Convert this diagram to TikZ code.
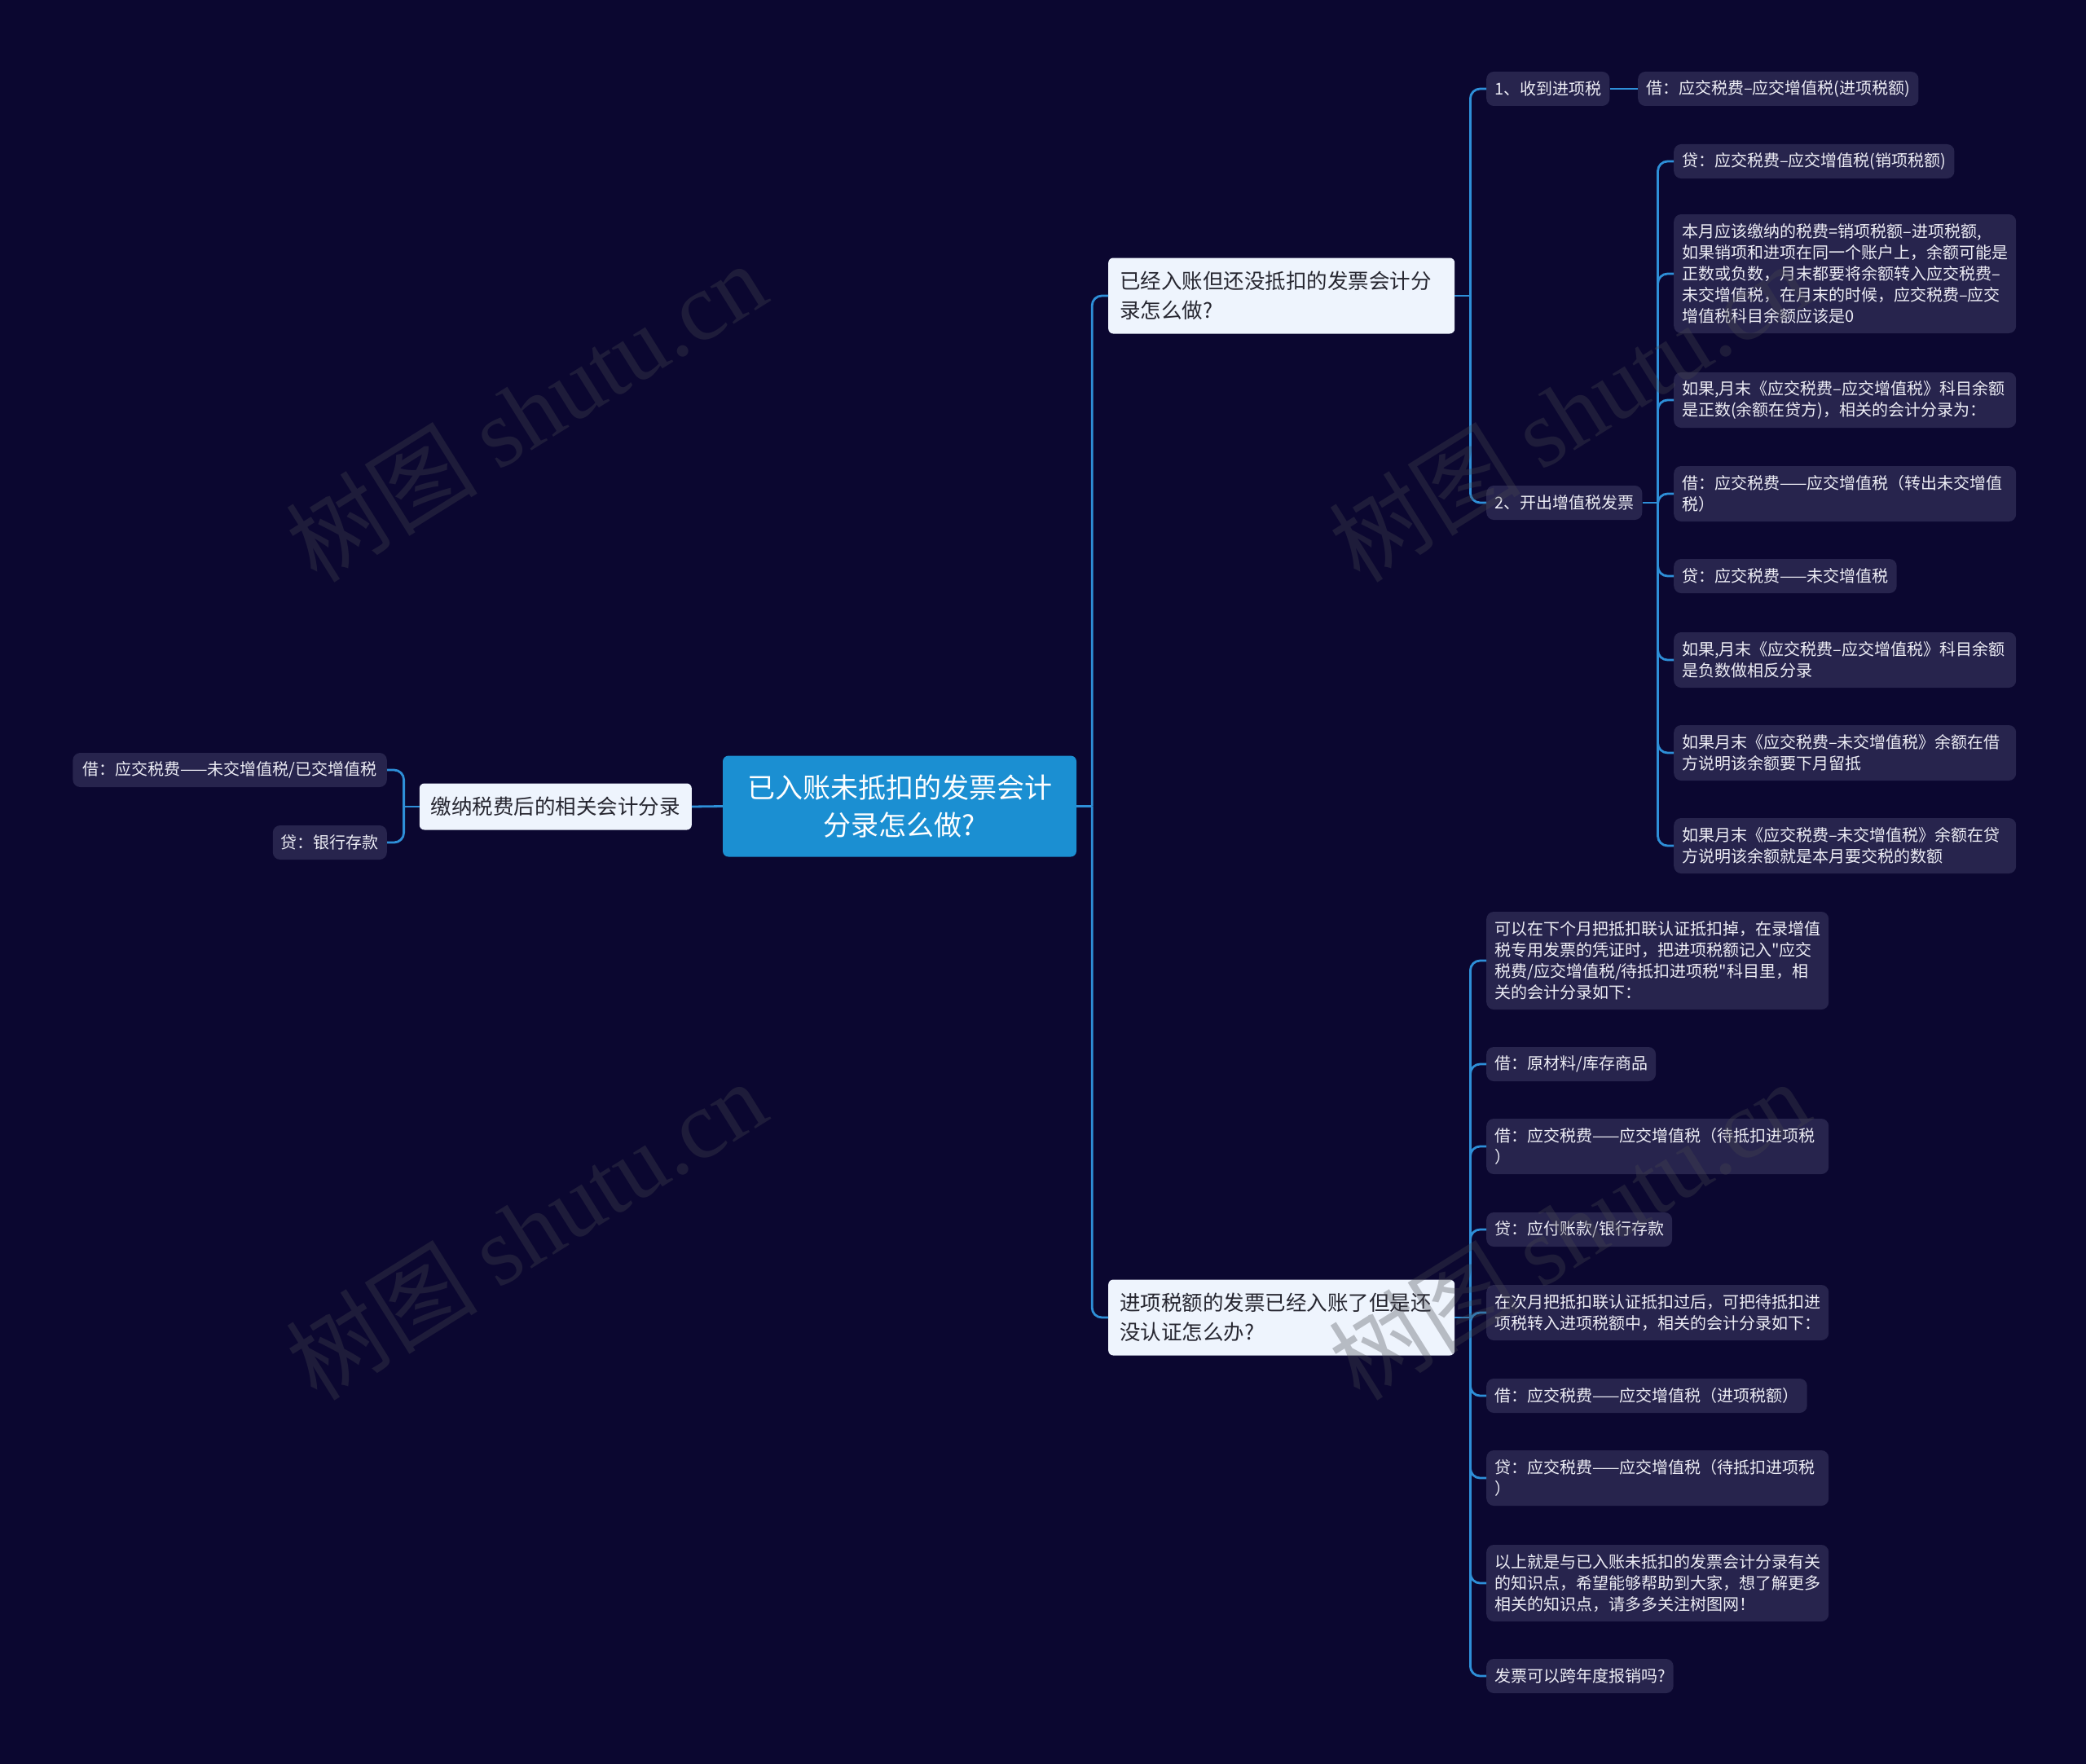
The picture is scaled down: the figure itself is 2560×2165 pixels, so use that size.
\documentclass[tikz,border=0pt]{standalone}
\usepackage{fontspec}
\setmainfont{Noto Sans CJK SC}[Ligatures=TeXOff]
\newfontfamily\wmlatin{Liberation Serif}
\usetikzlibrary{calc}
\definecolor{bgc}{HTML}{0B0730}
\definecolor{leafc}{HTML}{27244D}
\definecolor{linec}{HTML}{2E8FD8}
\definecolor{rootc}{HTML}{1B8FD2}
\definecolor{branchc}{HTML}{EEF4FD}
\definecolor{branchtext}{HTML}{262630}
\definecolor{leaftext}{HTML}{EDEDF5}
\definecolor{wmc}{HTML}{47474F}
\begin{document}
\begin{tikzpicture}[x=1pt,y=-1pt,
  rootbox/.style={fill=rootc, rounded corners=7pt, text=white, align=center,
    font=\fontsize{34}{46}\selectfont, minimum width=434pt, minimum height=124pt, inner sep=0pt},
  branchbox/.style={fill=branchc, rounded corners=6pt, text=branchtext, align=left,
    font=\fontsize{25.5}{36}\selectfont, inner xsep=14pt, inner ysep=0pt, minimum height=57pt},
  branchwide/.style={branchbox, text width=397pt, minimum height=93pt},
  leafbox/.style={fill=leafc, rounded corners=9pt, text=leaftext, align=left,
    font=\fontsize{20}{26}\selectfont, inner xsep=10pt, inner ysep=0pt, minimum height=42pt},
  leafwide/.style={leafbox, text width=400pt},
  nlines/.style={minimum height={26*#1+16}},
  conn/.style={draw=linec, line width=2.8pt},
  elbow/.style={conn, rounded corners=12pt},
  wm/.style={text=wmc, opacity=0.33, rotate=32, font=\fontsize{118}{118}\selectfont, inner sep=0pt}
]
\useasboundingbox (0,0) rectangle (2560,2165);
\fill[bgc] (0,0) rectangle (2560,2165);

% root and first level
\node[rootbox] (root) at (1104,989.5) {已入账未抵扣的发票会计\\分录怎么做?};
\node[branchbox, anchor=east] (lb) at (849,990) {缴纳税费后的相关会计分录};
\node[branchwide, anchor=west] (b1) at (1360,363) {已经入账但还没抵扣的发票会计分\\录怎么做?};
\node[branchwide, anchor=west] (b2) at (1360,1617) {进项税额的发票已经入账了但是还\\没认证怎么办?};

% left leaves
\node[leafbox, anchor=east, inner xsep=12pt] (l1) at (475,945) {借：应交税费——未交增值税/已交增值税};
\node[leafbox, anchor=east] (l2) at (475,1034) {贷：银行存款};

% branch 1 children
\node[leafbox, anchor=west] (c1) at (1824,109) {1、收到进项税};
\node[leafbox, anchor=west] (c1a) at (2010,109) {借：应交税费–应交增值税(进项税额)};
\node[leafbox, anchor=west] (c2) at (1824,617) {2、开出增值税发票};

\node[leafbox, anchor=west] (d1) at (2054,198) {贷：应交税费–应交增值税(销项税额)};
\node[leafwide, nlines=5, anchor=west] (d2) at (2054,336) {本月应该缴纳的税费=销项税额–进项税额,\\如果销项和进项在同一个账户上，余额可能是\\正数或负数，月末都要将余额转入应交税费–\\未交增值税，在月末的时候，应交税费–应交\\增值税科目余额应该是0};
\node[leafwide, nlines=2, anchor=west] (d3) at (2054,491) {如果,月末《应交税费–应交增值税》科目余额\\是正数(余额在贷方)，相关的会计分录为：};
\node[leafwide, nlines=2, anchor=west] (d4) at (2054,606) {借：应交税费——应交增值税（转出未交增值\\税）};
\node[leafbox, anchor=west] (d5) at (2054,707) {贷：应交税费——未交增值税};
\node[leafwide, nlines=2, anchor=west] (d6) at (2054,810) {如果,月末《应交税费–应交增值税》科目余额\\是负数做相反分录};
\node[leafwide, nlines=2, anchor=west] (d7) at (2054,924) {如果月末《应交税费–未交增值税》余额在借\\方说明该余额要下月留抵};
\node[leafwide, nlines=2, anchor=west] (d8) at (2054,1038) {如果月末《应交税费–未交增值税》余额在贷\\方说明该余额就是本月要交税的数额};

% branch 2 children
\node[leafwide, nlines=4, anchor=west] (e1) at (1824,1179) {可以在下个月把抵扣联认证抵扣掉，在录增值\\税专用发票的凭证时，把进项税额记入"应交\\税费/应交增值税/待抵扣进项税"科目里，相\\关的会计分录如下：};
\node[leafbox, anchor=west] (e2) at (1824,1306) {借：原材料/库存商品};
\node[leafwide, nlines=2, anchor=west] (e3) at (1824,1407) {借：应交税费——应交增值税（待抵扣进项税\\）};
\node[leafbox, anchor=west] (e4) at (1824,1509) {贷：应付账款/银行存款};
\node[leafwide, nlines=2, anchor=west] (e5) at (1824,1611) {在次月把抵扣联认证抵扣过后，可把待抵扣进\\项税转入进项税额中，相关的会计分录如下：};
\node[leafbox, anchor=west] (e6) at (1824,1713) {借：应交税费——应交增值税（进项税额）};
\node[leafwide, nlines=2, anchor=west] (e7) at (1824,1814) {贷：应交税费——应交增值税（待抵扣进项税\\）};
\node[leafwide, nlines=3, anchor=west] (e8) at (1824,1943) {以上就是与已入账未抵扣的发票会计分录有关\\的知识点，希望能够帮助到大家，想了解更多\\相关的知识点，请多多关注树图网！};
\node[leafbox, anchor=west] (e9) at (1824,2057) {发票可以跨年度报销吗?};

% junction points
\coordinate (jr) at ($(root.east)+(19,0)$);
\coordinate (jl) at ($(lb.west)+(-19,0)$);
\coordinate (j1) at ($(b1.east)+(19,0)$);
\coordinate (j2) at ($(b2.east)+(19,0)$);
\coordinate (jc2) at ($(c2.east)+(19,0)$);

% connectors
\draw[conn] (root.west) -- (lb.east);
\draw[conn] (lb.west) -- (jl);
\foreach \n in {l1,l2} \draw[elbow] (jl) |- (\n.east);

\draw[conn] (root.east) -- (jr);
\foreach \n in {b1,b2} \draw[elbow] (jr) |- (\n.west);

\draw[conn] (b1.east) -- (j1);
\foreach \n in {c1,c2} \draw[elbow] (j1) |- (\n.west);
\draw[conn] (c1.east) -- (c1a.west);

\draw[conn] (c2.east) -- (jc2);
\foreach \n in {d1,d2,d3,d4,d5,d6,d7,d8} \draw[elbow] (jc2) |- (\n.west);

\draw[conn] (b2.east) -- (j2);
\foreach \n in {e1,e2,e3,e4,e5,e6,e7,e8,e9} \draw[elbow] (j2) |- (\n.west);

% watermarks
\node[wm] (w1) at (645,505) {树图 {\wmlatin shutu.cn}};
\node[wm] (w2) at (645,1509) {树图 {\wmlatin shutu.cn}};
\node[wm] (w3) at (1925,505) {树图 {\wmlatin shutu.cn}};
\node[wm] (w4) at (1925,1509) {树图 {\wmlatin shutu.cn}};
\end{tikzpicture}
\end{document}
